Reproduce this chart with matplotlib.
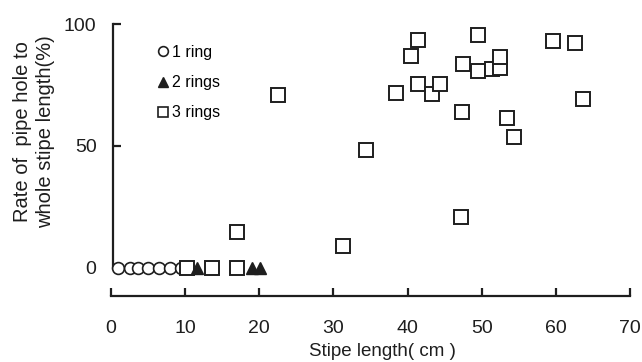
import matplotlib
matplotlib.use("Agg")
import matplotlib.pyplot as plt
from matplotlib.lines import Line2D

# data
ring1_x = [1.0, 2.6, 3.6, 5.0, 6.5, 8.0, 9.4]
ring1_y = [0, 0, 0, 0, 0, 0, 0]
ring2_x = [11.6, 19.0, 20.1]
ring2_y = [0, 0, 0]
ring3_x = [10.3, 13.6, 17.0, 17.0, 22.5, 31.3, 34.4, 38.5, 40.5, 41.4, 41.4,
           43.3, 44.4, 47.2, 47.4, 47.5, 49.5, 49.5, 51.4, 52.5, 52.5, 53.4,
           54.4, 59.6, 62.6, 63.6]
ring3_y = [0, 0, 0, 14.8, 70.9, 9.0, 48.4, 71.7, 86.9, 93.4, 75.4,
           71.3, 75.4, 20.9, 63.9, 83.6, 95.5, 80.8, 81.6, 82.0, 86.5, 61.5,
           53.7, 93.0, 92.2, 69.3]
labels = ["1 ring", "2 rings", "3 rings"]
x_ticks = [0, 10, 20, 30, 40, 50, 60, 70]
y_ticks = [0, 50, 100]

plt.rcParams['font.family'] = ['Liberation Sans', 'DejaVu Sans']
ink = '#1e1e1e'

fig = plt.figure(figsize=(6.42, 3.62), dpi=100)
ax = fig.add_axes([111/642, 66/362, 519/642, (296-16.7)/362])
ax.set_xlim(0, 70)
ax.set_ylim(-11.5, 103)

ax.plot(ring1_x, ring1_y, 'o', ms=8.5, mfc='white', mec=ink, mew=1.2, ls='none', clip_on=False, zorder=3)
ax.plot(ring3_x, ring3_y, 's', ms=10, mfc='white', mec=ink, mew=1.4, ls='none', clip_on=False, zorder=3)
ax.plot(ring2_x, ring2_y, '^', ms=9, mfc=ink, mec=ink, mew=1, ls='none', clip_on=False, zorder=4)

for s in ['top', 'right']:
    ax.spines[s].set_visible(False)
ax.spines['left'].set_position(('data', 0.3))
ax.spines['left'].set_bounds(0, 100)
ax.spines['bottom'].set_bounds(0, 70)
for s in ['left', 'bottom']:
    ax.spines[s].set_linewidth(1.6)
    ax.spines[s].set_color(ink)

ax.set_xticks(x_ticks)
ax.set_yticks(y_ticks)
ax.tick_params(axis='x', direction='in', length=6, width=1.6, pad=17, labelsize=14, colors=ink)
ax.tick_params(axis='y', direction='in', length=6, width=1.6, pad=12, labelsize=14, colors=ink)

handles = [
    Line2D([], [], marker='o', ls='none', ms=7, mfc='white', mec=ink, mew=1.2),
    Line2D([], [], marker='^', ls='none', ms=7.5, mfc=ink, mec=ink),
    Line2D([], [], marker='s', ls='none', ms=7.5, mfc='white', mec=ink, mew=1.2),
]
leg = ax.legend(handles, labels, loc='upper left', bbox_to_anchor=(150/642, 1-37/362),
                bbox_transform=fig.transFigure, frameon=False, fontsize=11.5,
                handlelength=0.6, handletextpad=0.3, labelspacing=0.95, borderpad=0)

fig.text(34/642, 1-132/362, "Rate of  pipe hole to\nwhole stipe length(%)", rotation=90,
         ha='center', va='center', multialignment='center', fontsize=14.5, color=ink,
         linespacing=1.3)
fig.text(382/642, 1-352/362, "Stipe length( cm )", ha='center', va='center', fontsize=13.5, color=ink)

fig.savefig('out.png', dpi=100)
